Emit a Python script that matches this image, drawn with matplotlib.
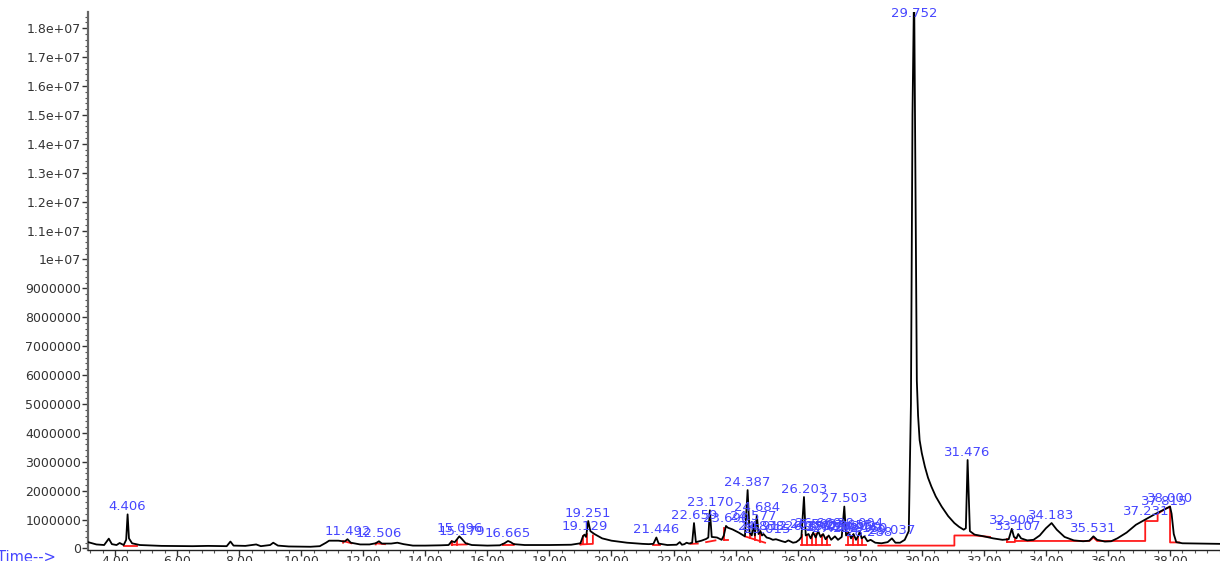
import numpy as np
import matplotlib
matplotlib.use("Agg")
from matplotlib import pyplot as plt
from matplotlib.ticker import MultipleLocator, FuncFormatter

# total ion chromatogram: (time in min, abundance)
time = [3.13, 3.40, 3.65, 3.80, 3.90, 4.05, 4.15, 4.28, 4.36, 4.406, 4.45, 4.55, 4.80,
        5.50, 6.50, 7.00, 7.60, 7.72, 7.82, 8.20, 8.55, 8.70, 9.00, 9.10, 9.25, 9.60,
        10.30, 10.60, 10.80, 10.90, 11.20, 11.40, 11.492, 11.60, 11.90, 12.20, 12.40,
        12.506, 12.60, 12.90, 13.10, 13.30, 13.60, 14.00, 14.50, 14.75, 14.85, 14.95,
        15.096, 15.179, 15.30, 15.50, 16.00, 16.40, 16.55, 16.665, 16.75, 16.85, 17.20,
        18.00, 18.70, 19.00, 19.08, 19.129, 19.18, 19.251, 19.32, 19.45, 19.70, 20.00,
        20.50, 21.00, 21.20, 21.35, 21.446, 21.52, 21.80, 22.10, 22.20, 22.27, 22.35,
        22.42, 22.50, 22.60, 22.659, 22.72, 22.90, 23.05, 23.12, 23.170, 23.23, 23.40,
        23.55, 23.62, 23.690, 23.75, 23.90, 24.10, 24.30, 24.387, 24.45, 24.52, 24.577,
        24.62, 24.684, 24.74, 24.80, 24.85, 24.90, 25.00, 25.10, 25.20, 25.30, 25.50,
        25.60, 25.70, 25.85, 25.95, 26.05, 26.12, 26.203, 26.26, 26.35, 26.42, 26.50,
        26.58, 26.66, 26.74, 26.82, 26.90, 27.00, 27.08, 27.20, 27.30, 27.42, 27.503,
        27.56, 27.65, 27.72, 27.80, 27.88, 27.96, 28.004, 28.06, 28.15, 28.25, 28.35,
        28.50, 28.70, 28.90, 29.037, 29.15, 29.30, 29.45, 29.58, 29.65, 29.70, 29.752,
        29.80, 29.84, 29.88, 29.93, 30.00, 30.10, 30.20, 30.31, 30.45, 30.64, 30.85,
        31.05, 31.20, 31.35, 31.42, 31.476, 31.55,
        31.70, 32.00, 32.30, 32.60, 32.80, 32.90, 32.97, 33.05, 33.107, 33.20, 33.40,
        33.60, 33.80, 34.00, 34.183, 34.35, 34.60, 34.90, 35.20, 35.40, 35.531, 35.65,
        35.90, 36.10, 36.30, 36.60, 36.90, 37.231, 37.50, 37.815, 38.000, 38.05, 38.12,
        38.20, 38.40, 39.00, 39.60]
abundance = [0.22, 0.14, 0.12, 0.34, 0.15, 0.12, 0.19, 0.12, 0.30, 1.18, 0.35, 0.18, 0.12,
             0.09, 0.08, 0.09, 0.08, 0.24, 0.10, 0.09, 0.14, 0.08, 0.12, 0.20, 0.10, 0.07,
             0.06, 0.08, 0.20, 0.27, 0.27, 0.24, 0.32, 0.20, 0.14, 0.14, 0.18,
             0.25, 0.17, 0.17, 0.20, 0.15, 0.10, 0.10, 0.11, 0.12, 0.25, 0.22,
             0.42, 0.33, 0.18, 0.12, 0.10, 0.11, 0.18, 0.26, 0.22, 0.15, 0.12,
             0.12, 0.13, 0.18, 0.42, 0.48, 0.40, 0.95, 0.60, 0.50, 0.35, 0.27,
             0.20, 0.16, 0.15, 0.16, 0.38, 0.17, 0.12, 0.13, 0.22, 0.13, 0.15,
             0.20, 0.17, 0.20, 0.88, 0.22, 0.27, 0.33, 0.38, 1.32, 0.40, 0.38,
             0.30, 0.45, 0.78, 0.72, 0.66, 0.55, 0.42, 2.02, 0.55, 0.45, 0.85,
             0.45, 1.15, 0.50, 0.60, 0.45, 0.50, 0.38, 0.35, 0.30, 0.32, 0.25,
             0.22, 0.28, 0.20, 0.22, 0.30, 0.40, 1.78, 0.45, 0.50, 0.35, 0.55,
             0.38, 0.60, 0.40, 0.50, 0.32, 0.45, 0.30, 0.42, 0.30, 0.40, 1.45,
             0.45, 0.55, 0.35, 0.50, 0.30, 0.45, 0.60, 0.35, 0.42, 0.25, 0.30,
             0.20, 0.18, 0.22, 0.35, 0.20, 0.20, 0.30, 0.60, 5.00, 15.0, 19.5,
             12.0, 5.80, 4.60, 3.75, 3.30, 2.83, 2.45, 2.14, 1.80, 1.45, 1.12,
             0.88, 0.75, 0.65, 0.70, 3.06, 0.60,
             0.48, 0.42, 0.35, 0.30, 0.32, 0.68, 0.40, 0.35, 0.50, 0.35, 0.28,
             0.30, 0.45, 0.70, 0.88, 0.65, 0.40, 0.28, 0.25, 0.27, 0.42, 0.30,
             0.24, 0.25, 0.35, 0.55, 0.82, 1.02, 1.18, 1.35, 1.45, 1.20, 0.50,
             0.22, 0.18, 0.17, 0.16]

# integration baselines (red), each a polyline of (time, abundance)
baselines = [
    [(4.30, 0.07), (4.70, 0.07)],
    [(11.35, 0.20), (11.35, 0.26), (11.62, 0.18)],
    [(12.40, 0.14), (12.40, 0.18), (12.70, 0.15)],
    [(14.85, 0.13), (14.85, 0.25), (14.85, 0.13), (15.35, 0.14), (15.35, 0.17)],
    [(15.02, 0.13), (15.02, 0.30)],
    [(16.50, 0.11), (16.50, 0.17), (16.50, 0.11), (16.85, 0.11), (16.85, 0.15)],
    [(19.00, 0.14), (19.00, 0.18), (19.00, 0.14), (19.40, 0.16), (19.40, 0.45)],
    [(19.08, 0.14), (19.08, 0.42)],
    [(19.20, 0.15), (19.20, 0.50)],
    [(21.35, 0.12), (21.55, 0.12)],
    [(22.55, 0.16), (22.78, 0.17)],
    [(23.05, 0.22), (23.35, 0.28)],
    [(23.62, 0.28), (23.62, 0.45), (23.62, 0.72)],
    [(23.62, 0.28), (23.75, 0.28)],
    [(24.30, 0.42), (24.95, 0.20)],
    [(24.45, 0.35), (24.45, 0.55)],
    [(24.62, 0.30), (24.62, 0.45)],
    [(24.80, 0.24), (24.80, 0.60)],
    [(26.10, 0.12), (27.05, 0.12)],
    [(26.15, 0.12), (26.15, 0.45)],
    [(26.30, 0.12), (26.30, 0.48)],
    [(26.45, 0.12), (26.45, 0.45)],
    [(26.60, 0.12), (26.60, 0.50)],
    [(26.78, 0.12), (26.78, 0.45)],
    [(26.95, 0.12), (26.95, 0.40)],
    [(27.55, 0.12), (28.20, 0.12)],
    [(27.62, 0.12), (27.62, 0.52)],
    [(27.78, 0.12), (27.78, 0.45)],
    [(27.94, 0.12), (27.94, 0.42)],
    [(28.06, 0.12), (28.06, 0.35)],
    [(28.60, 0.10), (31.05, 0.10), (31.05, 0.45), (31.70, 0.45), (32.20, 0.40)],
    [(32.75, 0.24), (32.75, 0.32)],
    [(32.75, 0.24), (33.00, 0.24), (33.00, 0.36)],
    [(33.00, 0.26), (35.40, 0.26), (35.531, 0.38), (35.65, 0.26), (37.20, 0.26),
     (37.20, 0.95), (37.60, 0.95), (37.60, 1.20), (37.815, 1.35), (38.00, 1.45),
     (38.00, 0.21), (38.30, 0.21)],
]

# retention times printed above the peaks
peak_labels = [4.406, 11.492, 12.506, 15.096, 15.179, 16.665, 19.129, 19.251, 21.446,
               22.659, 23.170, 23.690, 24.387, 24.577, 24.684, 24.838, 24.912, 25.015,
               26.203, 26.350, 26.503, 26.660, 26.825, 27.004, 27.212, 27.503, 27.655,
               27.802, 27.960, 28.004, 28.150, 28.288, 29.037, 29.752, 31.476, 32.900,
               33.107, 34.183, 35.531, 37.231, 37.815, 38.000]

scale = 1e6
t = np.array(time)
y = np.array(abundance) * scale

fig = plt.figure(figsize=(12.2, 5.61), dpi=100)
ax = fig.add_axes([88 / 1220, 11.5 / 561, 1 - 88 / 1220, 537.5 / 561])

for line in baselines:
    bt, by = zip(*line)
    ax.plot(bt, np.array(by) * scale, color="#ff1a1a", lw=1.3, zorder=2)

ax.plot(t, y, color="black", lw=1.3, zorder=3)

ymax = 18.56e6
for rt in peak_labels:
    h = min(np.interp(rt, t, y), 18.22e6)
    ax.annotate(f"{rt:.3f}", (rt, h), xytext=(0, 1), textcoords="offset points",
                ha="center", va="bottom", color="#4646ff", fontsize=9.5,
                annotation_clip=False, zorder=4)

ax.set_xlim(3.13, 39.61)
ax.set_ylim(-0.035e6, ymax)

ax.xaxis.set_major_locator(MultipleLocator(2))
ax.xaxis.set_minor_locator(MultipleLocator(0.4))
ax.xaxis.set_major_formatter(FuncFormatter(lambda v, p: f"{v:.2f}"))
ax.yaxis.set_major_locator(MultipleLocator(1e6))
ax.yaxis.set_minor_locator(MultipleLocator(2e5))
ax.yaxis.set_major_formatter(
    FuncFormatter(lambda v, p: str(int(round(v))) if v < 9.5e6 else f"{v:g}"))

for s in ["top", "right"]:
    ax.spines[s].set_visible(False)
ax.spines["left"].set_color("#666666")
ax.spines["left"].set_linewidth(1.6)
ax.spines["bottom"].set_color("#222222")
ax.spines["bottom"].set_linewidth(1.0)

ax.tick_params(axis="both", which="major", labelsize=9, colors="#333333",
               length=4, width=1, pad=1)
ax.tick_params(axis="both", which="minor", length=2, width=0.8, color="#555555")
ax.tick_params(axis="x", which="major", pad=0)

fig.text(56 / 1220, 1 - 557 / 561, "Time-->", ha="right", va="center",
         color="#4646ff", fontsize=10.5)

plt.savefig("out.png", dpi=100)
